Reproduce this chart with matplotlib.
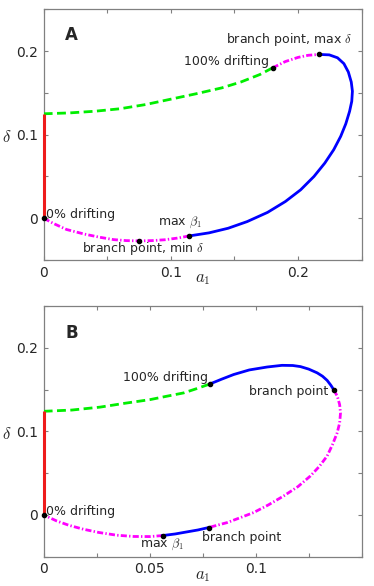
import matplotlib
matplotlib.use('Agg')
import matplotlib.pyplot as plt

plt.rcParams['mathtext.fontset'] = 'cm'
plt.rcParams['font.family'] = 'DejaVu Sans'

# ---- panel A ----
a_red = [0.0, 0.0]
d_red = [0.0, 0.125]

a_green = [0.0, 0.02, 0.04, 0.06, 0.08, 0.10, 0.12, 0.14, 0.155, 0.17, 0.18]
d_green = [0.125, 0.126, 0.128, 0.131, 0.136, 0.1425, 0.149, 0.156, 0.163, 0.172, 0.180]

a_mag_top = [0.18, 0.19, 0.20, 0.208, 0.2165]
d_mag_top = [0.180, 0.1875, 0.1925, 0.195, 0.196]

a_blue = [0.2165, 0.2245, 0.231, 0.236, 0.2395, 0.2418, 0.2427, 0.2422, 0.2405, 0.2375,
          0.2335, 0.228, 0.221, 0.2125, 0.202, 0.190, 0.176, 0.160, 0.145, 0.130, 0.1144]
d_blue = [0.196, 0.1955, 0.192, 0.185, 0.175, 0.163, 0.152, 0.140, 0.128, 0.113,
          0.098, 0.082, 0.066, 0.050, 0.034, 0.020, 0.007, -0.004, -0.012, -0.0175, -0.0212]

a_mag_bot = [0.1144, 0.105, 0.095, 0.085, 0.0751, 0.065, 0.055, 0.0442, 0.032, 0.018, 0.008, 0.0]
d_mag_bot = [-0.0212, -0.0238, -0.0258, -0.0268, -0.0271, -0.0268, -0.0256, -0.0228, -0.019, -0.0135, -0.0065, 0.0]

a_dots = [0.0, 0.0751, 0.1144, 0.18, 0.2165]
d_dots = [0.0, -0.0271, -0.0212, 0.180, 0.196]

# ---- panel B ----
b_red = [0.0, 0.0]
e_red = [0.0, 0.124]

b_green = [0.0, 0.0133, 0.0266, 0.038, 0.0502, 0.058, 0.066, 0.072, 0.0783]
e_green = [0.124, 0.1255, 0.129, 0.1335, 0.138, 0.142, 0.146, 0.151, 0.1566]

b_blue_top = [0.0783, 0.084, 0.0896, 0.097, 0.1054, 0.1124, 0.1175, 0.1211, 0.125, 0.129, 0.1315, 0.1337, 0.1355, 0.1369]
e_blue_top = [0.1566, 0.1625, 0.168, 0.1735, 0.177, 0.179, 0.1788, 0.1775, 0.1745, 0.170, 0.166, 0.161, 0.155, 0.1494]

b_mag = [0.1369, 0.1385, 0.1396, 0.140, 0.1396, 0.1384, 0.1362, 0.1337, 0.130, 0.1258, 0.120,
         0.1132, 0.106, 0.099, 0.0925, 0.0865, 0.0778]
e_mag = [0.1494, 0.142, 0.132, 0.122, 0.110, 0.098, 0.084, 0.0705, 0.058, 0.0466, 0.034,
         0.0227, 0.012, 0.0028, -0.0035, -0.0092, -0.0151]

b_blue_bot = [0.0778, 0.0728, 0.0676, 0.062, 0.0561]
e_blue_bot = [-0.0151, -0.018, -0.0203, -0.0228, -0.0247]

b_mag_bot = [0.0561, 0.0502, 0.0425, 0.0345, 0.026, 0.0187, 0.012, 0.0061, 0.0]
e_mag_bot = [-0.0247, -0.0259, -0.0258, -0.0243, -0.021, -0.0171, -0.0125, -0.0072, 0.0]

b_dots = [0.0, 0.0561, 0.0778, 0.0783, 0.1369]
e_dots = [0.0, -0.0247, -0.0151, 0.1566, 0.1494]

RED = '#ee1c1c'
GREEN = '#00ee00'
MAG = '#ff00ff'
BLUE = '#0000ff'
TXT = '#262626'
GRAY = '#808080'

fig = plt.figure(figsize=(3.74, 5.86), dpi=100)
axA = fig.add_axes([0.1168, 0.5563, 0.8503, 0.4278])
axB = fig.add_axes([0.1168, 0.0500, 0.8503, 0.4278])


def draw(ax, red, green, segs_blue, segs_mag, dots):
    ax.plot(*red, color=RED, lw=2.2, solid_capstyle='butt', zorder=4, clip_on=False)
    ax.plot(*green, color=GREEN, lw=2.0, dashes=(3.2, 1.6), zorder=3)
    for s in segs_mag:
        ax.plot(*s, color=MAG, lw=2.0, dashes=(2.2, 0.8, 0.5, 0.8), zorder=3)
    for s in segs_blue:
        ax.plot(*s, color=BLUE, lw=2.0, zorder=3)
    ax.plot(*dots, 'o', color='k', ms=3, zorder=5, clip_on=False)


def style(ax, xmax, xstep, xlabeled):
    ax.set_xlim(0, xmax)
    ax.set_ylim(-0.05, 0.25)
    xt = [i * xstep for i in range(int(round(xmax / xstep)) + 1)]
    ax.set_xticks(xt)
    ax.set_xticklabels([('%g' % round(v, 3)) if round(v, 3) in xlabeled else '' for v in xt])
    yt = [-0.05, 0, 0.05, 0.1, 0.15, 0.2, 0.25]
    ax.set_yticks(yt)
    ax.set_yticklabels(['', '0', '', '0.1', '', '0.2', ''])
    ax.tick_params(direction='in', length=3, width=0.8, color=GRAY, labelcolor=TXT,
                   labelsize=10, top=True, right=True, pad=4)
    for sp in ax.spines.values():
        sp.set_color(GRAY)
        sp.set_linewidth(0.9)
    ax.set_xlabel('$a_1$', fontsize=12, color=TXT, va='center')
    ax.xaxis.set_label_coords(0.5, -0.072)
    ax.set_ylabel(r'$\delta$', fontsize=12, color=TXT, rotation=0, va='center')
    ax.yaxis.set_label_coords(-0.115, 0.49)


draw(axA, (a_red, d_red), (a_green, d_green), [(a_blue, d_blue)],
     [(a_mag_top, d_mag_top), (a_mag_bot, d_mag_bot)], (a_dots, d_dots))
style(axA, 0.25, 0.05, [0, 0.1, 0.2])

draw(axB, (b_red, e_red), (b_green, e_green), [(b_blue_top, e_blue_top), (b_blue_bot, e_blue_bot)],
     [(b_mag, e_mag), (b_mag_bot, e_mag_bot)], (b_dots, e_dots))
style(axB, 0.15, 0.025, [0, 0.05, 0.1])

fs = 9
axA.text(0.022, 0.2195, 'A', fontsize=12, fontweight='bold', color=TXT, ha='center', va='center')
axA.text(0.2422, 0.2135, r'branch point, max $\delta$', fontsize=fs, color=TXT, ha='right', va='center')
axA.text(0.177, 0.188, '100% drifting', fontsize=fs, color=TXT, ha='right', va='center')
axA.text(0.002, 0.004, '0% drifting', fontsize=fs, color=TXT, ha='left', va='center')
axA.text(0.0895, -0.0145, r'max $\beta_1$', fontsize=fs, color=TXT, ha='left', va='bottom')
axA.text(0.0305, -0.0368, r'branch point, min $\delta$', fontsize=fs, color=TXT, ha='left', va='center')

axB.text(0.0134, 0.218, 'B', fontsize=12, fontweight='bold', color=TXT, ha='center', va='center')
axB.text(0.0775, 0.1645, '100% drifting', fontsize=fs, color=TXT, ha='right', va='center')
axB.text(0.1343, 0.148, 'branch point', fontsize=fs, color=TXT, ha='right', va='center')
axB.text(0.001, 0.004, '0% drifting', fontsize=fs, color=TXT, ha='left', va='center')
axB.text(0.0455, -0.035, r'max $\beta_1$', fontsize=fs, color=TXT, ha='left', va='center')
axB.text(0.0748, -0.0266, 'branch point', fontsize=fs, color=TXT, ha='left', va='center')

fig.savefig('out.png', dpi=100)
